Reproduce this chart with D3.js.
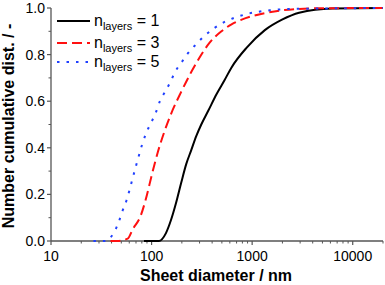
<!DOCTYPE html>
<meta charset="utf-8">
<style>
body { margin: 0; background: #fff; }
text { font-family: Arial, "Liberation Sans", sans-serif; fill: #000; }
</style>
<body>
<svg width="385" height="285"></svg>
<script src="https://cdn.jsdelivr.net/npm/d3@7"></script>
<script>
// sheet diameter (nm) and cumulative number fraction
var d1 = [84, 118, 139, 156, 175, 197, 221, 248, 278, 312, 367, 442, 531, 624, 883, 1337, 1980, 2930, 6280, 20000];
var v1 = [0, 0, 0.034, 0.09, 0.163, 0.25, 0.33, 0.39, 0.45, 0.50, 0.56, 0.63, 0.69, 0.745, 0.83, 0.905, 0.95, 0.98, 0.998, 1.0];

var d3l = [39, 46, 57.8, 64.9, 78.2, 87.7, 100.7, 116, 133, 156, 197, 248, 298, 376, 495, 624, 787, 1337, 1980, 4990, 20000];
var v3 = [0, 0, 0.01, 0.05, 0.11, 0.18, 0.285, 0.385, 0.465, 0.545, 0.64, 0.725, 0.785, 0.85, 0.9, 0.93, 0.95, 0.978, 0.99, 0.999, 1.0];

var d5 = [26.4, 34.8, 41.9, 47.0, 51.5, 56.5, 60.5, 64.9, 69.6, 74.6, 80.0, 87.7, 98.4, 110, 121, 136, 153, 171, 201, 231, 278, 335, 421, 531, 883, 1503, 2495, 20000];
var v5 = [0, 0, 0.034, 0.08, 0.13, 0.176, 0.22, 0.27, 0.318, 0.365, 0.41, 0.46, 0.506, 0.55, 0.6, 0.64, 0.68, 0.725, 0.77, 0.807, 0.845, 0.88, 0.914, 0.94, 0.974, 0.99, 0.996, 1.0];

var layers = ["1", "3", "5"];
var xTicks = [10, 100, 1000, 10000];
var yTicks = [0, 0.2, 0.4, 0.6, 0.8, 1.0];

var svg = d3.select("svg");

var x = d3.scaleLog().domain([10, 20000]).range([51, 383]);
var y = d3.scaleLinear().domain([0, 1]).range([241, 8]);

var minorX = [];
[10, 100, 1000, 10000].forEach(function(dec) {
  for (var k = 2; k <= 9; k++) if (dec * k <= 20000) minorX.push(dec * k);
});

// x axis
var gx = svg.append("g").attr("transform", "translate(0," + y(0) + ")");
gx.append("line").attr("x1", x(10)).attr("x2", 383).attr("stroke", "#555").attr("stroke-width", 1.3);
gx.selectAll(".mj").data(xTicks).enter().append("line")
    .attr("x1", x).attr("x2", x).attr("y1", 0).attr("y2", 4)
    .attr("stroke", "#555").attr("stroke-width", 1.2);
gx.selectAll(".mn").data(minorX).enter().append("line")
    .attr("x1", x).attr("x2", x).attr("y1", 0).attr("y2", 2.5)
    .attr("stroke", "#555").attr("stroke-width", 1);
gx.selectAll("text").data(xTicks).enter().append("text")
    .attr("x", x).attr("y", 20)
    .attr("text-anchor", "middle").style("font-size", "14px")
    .text(function(d) { return d; });

// y axis
var gy = svg.append("g").attr("transform", "translate(" + x(10) + ",0)");
gy.append("line").attr("y1", y(0)).attr("y2", y(1)).attr("stroke", "#555").attr("stroke-width", 1.3);
gy.selectAll(".mj").data(yTicks).enter().append("line")
    .attr("y1", y).attr("y2", y).attr("x1", 0).attr("x2", -4)
    .attr("stroke", "#555").attr("stroke-width", 1.2);
gy.selectAll(".mn").data([0.1, 0.3, 0.5, 0.7, 0.9]).enter().append("line")
    .attr("y1", y).attr("y2", y).attr("x1", 0).attr("x2", -2.5)
    .attr("stroke", "#555").attr("stroke-width", 1);
gy.selectAll("text").data(yTicks).enter().append("text")
    .attr("x", -6).attr("y", y).attr("dy", "0.36em")
    .attr("text-anchor", "end").style("font-size", "14px")
    .text(function(d) { return d.toFixed(1); });

// titles
svg.append("text").attr("x", 216).attr("y", 281)
    .attr("text-anchor", "middle").style("font-size", "16px").style("font-weight", "bold")
    .text("Sheet diameter / nm");
svg.append("text").attr("transform", "translate(14,126) rotate(-90)")
    .attr("text-anchor", "middle").style("font-size", "16px").style("font-weight", "bold")
    .text("Number cumulative dist. / -");

// curves
var series = [
  { d: d1, v: v1, color: "#000", dash: null },
  { d: d3l, v: v3, color: "#ff1010", dash: "10,5" },
  { d: d5, v: v5, color: "#2040ff", dash: "2.5,7" }
];

var line = d3.line()
    .x(function(p) { return x(p[0]); })
    .y(function(p) { return y(p[1]); })
    .curve(d3.curveMonotoneX);

series.forEach(function(s) {
  svg.append("path")
      .datum(d3.zip(s.d, s.v))
      .attr("d", line)
      .attr("fill", "none")
      .attr("stroke", s.color)
      .attr("stroke-width", 2)
      .attr("stroke-dasharray", s.dash);
});

// legend
var leg = svg.append("g");
var ly = [21, 43, 62];
series.forEach(function(s, i) {
  leg.append("line").attr("x1", 57).attr("x2", 90).attr("y1", ly[i]).attr("y2", ly[i])
      .attr("stroke", s.color).attr("stroke-width", 2).attr("stroke-dasharray", s.dash);
  var t = leg.append("text").attr("x", 94).attr("y", ly[i] + 5).style("font-size", "16px");
  t.append("tspan").text("n");
  t.append("tspan").attr("dy", 4).style("font-size", "11px").text("layers");
  t.append("tspan").attr("dy", -4).text(" = " + layers[i]);
});
</script>
</body>
